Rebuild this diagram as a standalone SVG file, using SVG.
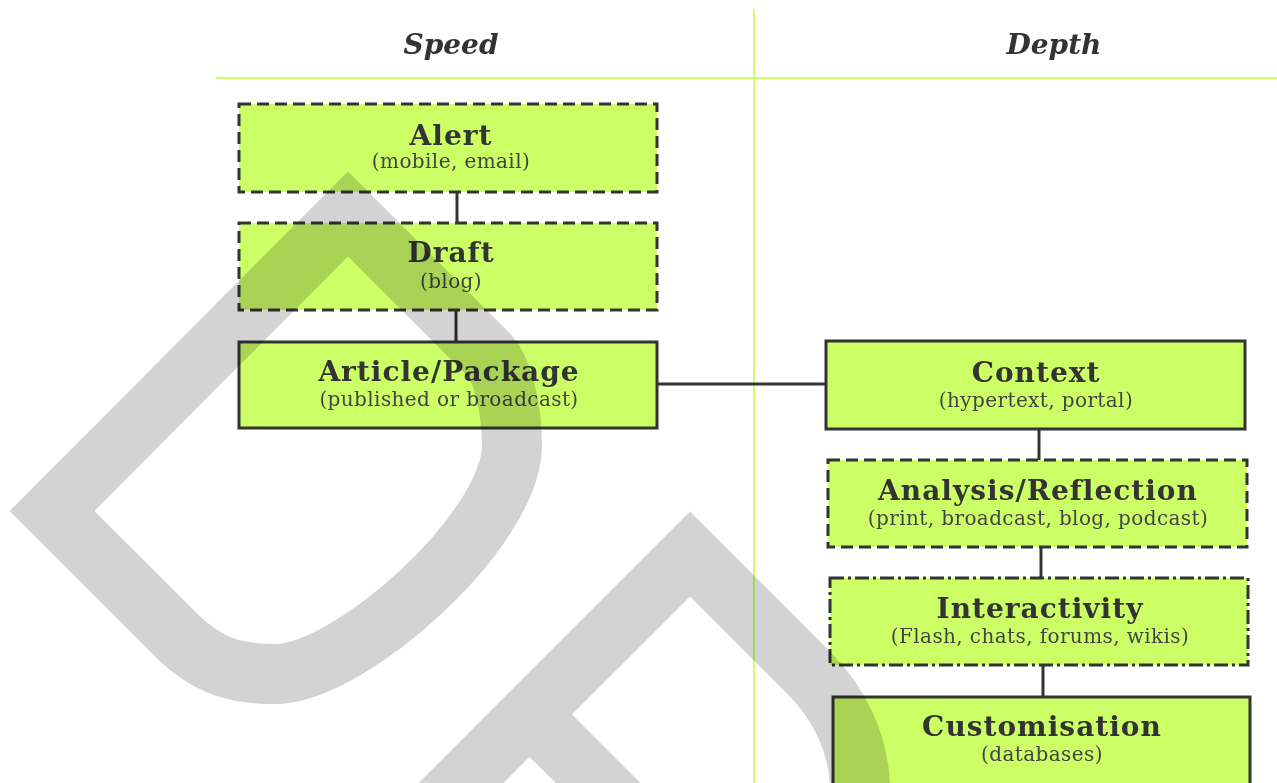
<svg xmlns="http://www.w3.org/2000/svg" width="1277" height="783" viewBox="0 0 1277 783">
<style>
.box{fill:#ccff66;stroke:#333;stroke-width:3}
.dash{stroke-dasharray:12 6}
.dashdot{stroke-dasharray:14 4 3 4}
.t{font-family:"DejaVu Serif","Liberation Serif",serif;font-weight:bold;font-size:28px;letter-spacing:1px;fill:#333;text-anchor:middle}
.s{font-family:"DejaVu Serif","Liberation Serif",serif;font-size:20px;letter-spacing:0.4px;fill:#444;text-anchor:middle}
.h{font-family:"DejaVu Serif","Liberation Serif",serif;font-weight:bold;font-style:italic;font-size:28px;fill:#333;text-anchor:middle}
.grid{stroke:#ccff66;stroke-width:2;fill:none}
.conn{stroke:#333;stroke-width:3;fill:none}
.wm{fill:none;stroke:#d3d3d3;stroke-width:60;stroke-linejoin:miter;stroke-miterlimit:10}
</style>
<rect x="0" y="0" width="1277" height="783" fill="#fff"/>
<g id="headers">
<line class="grid" x1="216" y1="78" x2="1277" y2="78"/>
<line class="grid" x1="754" y1="9" x2="754" y2="783"/>
<text class="h" x="451" y="54">Speed</text>
<text class="h" x="1054" y="54">Depth</text>
</g>
<g id="connectors">
<line class="conn" x1="457" y1="192" x2="457" y2="223"/>
<line class="conn" x1="456" y1="310" x2="456" y2="342"/>
<line class="conn" x1="657" y1="384" x2="826" y2="384"/>
<line class="conn" x1="1039" y1="429" x2="1039" y2="460"/>
<line class="conn" x1="1041" y1="547" x2="1041" y2="578"/>
<line class="conn" x1="1043" y1="665" x2="1043" y2="697"/>
</g>
<g id="alert">
<rect class="box dash" x="239" y="104" width="418" height="88"/>
<text class="t" x="451" y="145">Alert</text>
<text class="s" x="451" y="168">(mobile, email)</text>
</g>
<g id="draft">
<rect class="box dash" x="239" y="223" width="418" height="87"/>
<text class="t" x="451" y="262">Draft</text>
<text class="s" x="451" y="288">(blog)</text>
</g>
<g id="article">
<rect class="box" x="239" y="342" width="418" height="86"/>
<text class="t" x="449" y="381">Article/Package</text>
<text class="s" x="449" y="406">(published or broadcast)</text>
</g>
<g id="context">
<rect class="box" x="826" y="341" width="419" height="88"/>
<text class="t" x="1036" y="382">Context</text>
<text class="s" x="1036" y="407">(hypertext, portal)</text>
</g>
<g id="analysis">
<rect class="box dash" x="828" y="460" width="419" height="87"/>
<text class="t" x="1038" y="500">Analysis/Reflection</text>
<text class="s" x="1038" y="525">(print, broadcast, blog, podcast)</text>
</g>
<g id="interactivity">
<rect class="box dashdot" x="830" y="578" width="418" height="87"/>
<text class="t" x="1040" y="618">Interactivity</text>
<text class="s" x="1040" y="643">(Flash, chats, forums, wikis)</text>
</g>
<g id="customisation">
<rect class="box" x="833" y="697" width="417" height="88"/>
<text class="t" x="1042" y="736">Customisation</text>
<text class="s" x="1042" y="761">(databases)</text>
</g>
<g id="watermark" style="mix-blend-mode:multiply">
<path class="wm" d="M348,214 L52,511 L175,634 C210,669 240,674 275,674 C350,674 512,530 512,445 C512,410 503,369 488,354 Z"/>
<path class="wm" d="M350,894 L690,554 L809,673 C839,703 860,745 860,790 C860,860 780,965 700,885 L529.5,714.5"/>
</g>
</svg>
